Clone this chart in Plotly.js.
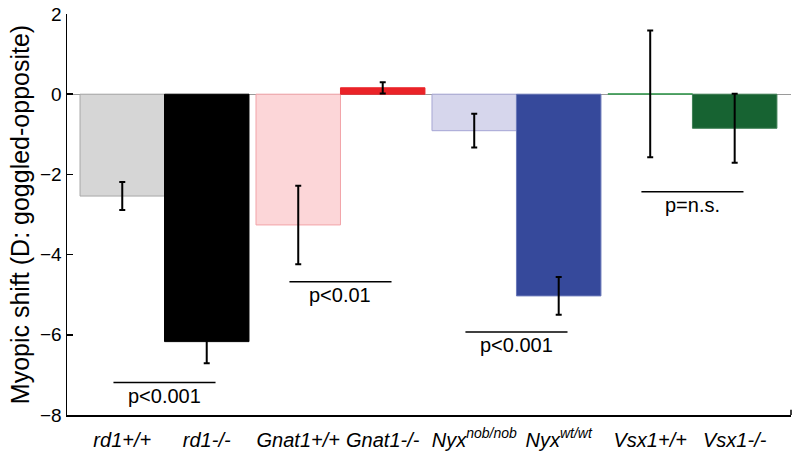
<!DOCTYPE html>
<html><head><meta charset="utf-8">
<script src="https://cdn.plot.ly/plotly-3.0.1.min.js"></script>
<style>html,body{margin:0;padding:0;background:#fff}#chart{width:800px;height:454px}</style>
</head><body><div id="chart"></div>
<script>
// Groups (pairs of bars)
const groups = [0, 1, 2, 3];
const leftLabels  = ['rd1+/+', 'Gnat1+/+', 'Nyx<sup>nob/nob</sup>', 'Vsx1+/+'];
const rightLabels = ['rd1-/-', 'Gnat1-/-', 'Nyx<sup>wt/wt</sup>', 'Vsx1-/-'];
const leftValues  = [-2.54, -3.26, -0.91, 0.01];
const leftErrors  = [0.35, 0.98, 0.42, 1.58];
const rightValues = [-6.17, 0.16, -5.03, -0.85];
const rightErrors = [0.54, 0.14, 0.47, 0.86];
const leftColors      = ['#d6d6d6', '#fcd6d8', '#d6d6ec', '#3c9a55'];
const leftLineColors  = ['#a8a8a8', '#f2a3a8', '#a6a6d4', '#3c9a55'];
const rightColors     = ['#000000', '#ea2328', '#36499b', '#176332'];
const rightLineColors = ['#000000', '#ea2328', '#6a78b8', '#3f7f55'];
const sigY    = [-7.19, -4.68, -5.93, -2.43];
const sigText = ['p<0.001', 'p<0.01', 'p<0.001', 'p=n.s.'];

const bargap = 0.04;
const off = (1 - bargap) / 4;
const esc = s => s.replace(/</g, '&lt;');

const errStyle = {type: 'data', visible: true, color: '#000', thickness: 2, width: 3};

const traces = [
  {type: 'bar', x: groups, y: leftValues,
   marker: {color: leftColors, line: {color: leftLineColors, width: 1}},
   error_y: Object.assign({array: leftErrors}, errStyle), hoverinfo: 'y'},
  {type: 'bar', x: groups, y: rightValues,
   marker: {color: rightColors, line: {color: rightLineColors, width: 1}},
   error_y: Object.assign({array: rightErrors}, errStyle), hoverinfo: 'y'}
];

const tickvals = [], ticktext = [];
groups.forEach((g, i) => {
  tickvals.push(g - off, g + off);
  ticktext.push('<i>' + leftLabels[i] + '</i>', '<i>' + rightLabels[i] + '</i>');
});

const shapes = groups.map((g, i) => ({
  type: 'line', xref: 'x', yref: 'y', x0: g - 0.29, x1: g + 0.29, y0: sigY[i], y1: sigY[i],
  line: {color: '#000', width: 1.5}
}));
shapes.push({type: 'line', xref: 'paper', yref: 'paper', x0: 1, x1: 1, y0: 0, y1: 0.013,
  line: {color: '#000', width: 1.5}});

const annotations = groups.map((g, i) => ({
  xref: 'x', yref: 'y', x: g, y: sigY[i], text: esc(sigText[i]), showarrow: false,
  yanchor: 'top', yshift: 0, font: {family: 'Liberation Sans, Arial, sans-serif', size: 20, color: '#000'}
}));

const layout = {
  width: 800, height: 454,
  margin: {l: 67, r: 9, t: 14, b: 39},
  paper_bgcolor: '#fff', plot_bgcolor: '#fff',
  barmode: 'group', bargap: bargap, bargroupgap: 0,
  showlegend: false,
  xaxis: {
    type: 'linear', range: [-0.554, 3.56],
    tickvals: tickvals, ticktext: ticktext, ticks: '',
    showgrid: false, zeroline: false,
    showline: true, linecolor: '#000', linewidth: 1.5,
    ticklabelstandoff: 6,
    tickfont: {family: 'Liberation Sans Narrow, Liberation Sans, Arial, sans-serif', size: 20, color: '#000'}
  },
  yaxis: {
    range: [-8, 2], tickvals: [2, 0, -2, -4, -6, -8],
    ticks: 'inside', ticklen: 6, tickwidth: 1.5, tickcolor: '#000',
    showgrid: false, zeroline: true, zerolinecolor: '#9a9a9a', zerolinewidth: 1,
    showline: true, linecolor: '#000', linewidth: 1.5,
    tickfont: {family: 'Liberation Sans, Arial, sans-serif', size: 19, color: '#000'},
    title: {text: 'Myopic shift (D: goggled-opposite)', standoff: 3,
            font: {family: 'Liberation Sans, Arial, sans-serif', size: 25, color: '#000'}}
  },
  shapes: shapes,
  annotations: annotations
};

Plotly.newPlot('chart', traces, layout, {displayModeBar: false, staticPlot: true});
</script>
</body></html>
